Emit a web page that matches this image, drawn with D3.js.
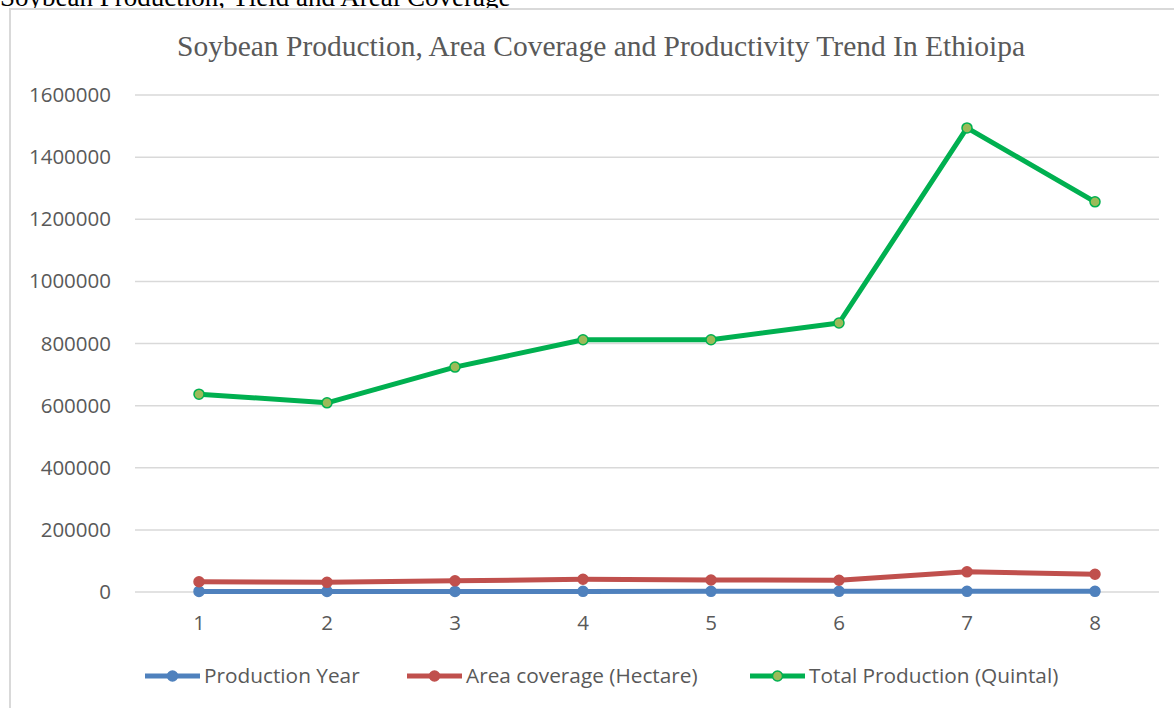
<!DOCTYPE html>
<html lang="en">
<head>
	<meta charset="utf-8">
	<title>Soybean Production</title>
	<script src="https://d3js.org/d3.v7.min.js"></script>
	<style>
		body { margin: 0; background: #fff; }
	</style>
</head>
<body>
	<script>
		// chart data
		var categories = [1, 2, 3, 4, 5, 6, 7, 8];
		var productionYear = [2010, 2011, 2012, 2013, 2014, 2015, 2016, 2017];
		var areaCoverage = [33000, 31000, 36000, 41000, 38500, 38000, 65000, 57000];
		var totalProduction = [637000, 609000, 724000, 812000, 812000, 866000, 1494000, 1256000];
		var yTicks = [0, 200000, 400000, 600000, 800000, 1000000, 1200000, 1400000, 1600000];
		var seriesNames = ["Production Year", "Area coverage (Hectare)", "Total Production (Quintal)"];

		var w = 1174, h = 708;
		// plot area (note: "top" is taken by window.top, so use plotTop)
		var plotLeft = 135, plotRight = 1159, plotTop = 95, plotBottom = 592;

		var svg = d3.select("body").append("svg")
			.attr("width", w)
			.attr("height", h);

		// heading above the chart box (cut off at top)
		svg.append("text")
			.attr("x", 0)
			.attr("y", 6)
			.attr("font-family", "'Liberation Serif', 'Times New Roman', serif")
			.attr("font-size", 27)
			.attr("fill", "#000")
			.text("Soybean Production, Yield and Areal Coverage");

		// chart box
		svg.append("rect")
			.attr("x", 10)
			.attr("y", 9)
			.attr("width", w + 20)
			.attr("height", h + 20)
			.attr("fill", "#fff")
			.attr("stroke", "#d9d9d9")
			.attr("stroke-width", 2);

		svg.append("text")
			.attr("x", 601)
			.attr("y", 56)
			.attr("text-anchor", "middle")
			.attr("font-family", "'Liberation Serif', 'Times New Roman', serif")
			.attr("font-size", 29.5)
			.attr("fill", "#595959")
			.text("Soybean Production, Area Coverage and Productivity Trend In Ethioipa");

		var x = d3.scaleBand().domain(categories).range([plotLeft, plotRight]);
		var y = d3.scaleLinear().domain([0, 1600000]).range([plotBottom, plotTop]);

		// gridlines
		svg.append("g")
			.selectAll("line")
			.data(yTicks)
			.enter()
			.append("line")
			.attr("x1", plotLeft)
			.attr("x2", plotRight)
			.attr("y1", function(d) { return y(d); })
			.attr("y2", function(d) { return y(d); })
			.attr("stroke", "#d9d9d9")
			.attr("stroke-width", 1.5);

		var yAxis = svg.append("g")
			.attr("transform", "translate(" + (plotLeft - 24) + ",0)")
			.call(d3.axisLeft(y).tickValues(yTicks).tickSize(0).tickPadding(0).tickFormat(d3.format("d")));
		yAxis.select(".domain").remove();

		var xAxis = svg.append("g")
			.attr("transform", "translate(0," + (plotBottom + 23) + ")")
			.call(d3.axisBottom(x).tickSize(0).tickPadding(0));
		xAxis.select(".domain").remove();

		svg.selectAll(".tick text")
			.attr("font-family", "'Open Sans', sans-serif")
			.attr("font-size", 20.5)
			.attr("fill", "#595959");

		var series = [
			{ name: seriesNames[0], values: productionYear, color: "#4f81bd", fill: "#4f81bd" },
			{ name: seriesNames[1], values: areaCoverage, color: "#c0504d", fill: "#c0504d" },
			{ name: seriesNames[2], values: totalProduction, color: "#00b050", fill: "#9bbb59" }
		];

		var cx = function(i) { return x(categories[i]) + x.bandwidth() / 2; };
		var line = d3.line()
			.x(function(d, i) { return cx(i); })
			.y(function(d) { return y(d); });

		series.forEach(function(s) {
			svg.append("path")
				.datum(s.values)
				.attr("d", line)
				.attr("fill", "none")
				.attr("stroke", s.color)
				.attr("stroke-width", 5)
				.attr("stroke-linejoin", "round");

			svg.append("g")
				.selectAll("circle")
				.data(s.values)
				.enter()
				.append("circle")
				.attr("cx", function(d, i) { return cx(i); })
				.attr("cy", function(d) { return y(d); })
				.attr("r", 5)
				.attr("fill", s.fill)
				.attr("stroke", s.color)
				.attr("stroke-width", 1.5);
		});

		// legend
		var legendX = [145, 407, 750];
		var legend = svg.append("g")
			.selectAll("g")
			.data(series)
			.enter()
			.append("g")
			.attr("transform", function(d, i) { return "translate(" + legendX[i] + ",676)"; });

		legend.append("line")
			.attr("x1", 0).attr("x2", 55)
			.attr("stroke", function(d) { return d.color; })
			.attr("stroke-width", 5);
		legend.append("circle")
			.attr("cx", 27.5)
			.attr("r", 5)
			.attr("fill", function(d) { return d.fill; })
			.attr("stroke", function(d) { return d.color; })
			.attr("stroke-width", 1.5);
		legend.append("text")
			.attr("x", 59)
			.attr("dy", "0.35em")
			.attr("font-family", "'Open Sans', sans-serif")
			.attr("font-size", 20.8)
			.attr("fill", "#595959")
			.text(function(d) { return d.name; });
	</script>
</body>
</html>
